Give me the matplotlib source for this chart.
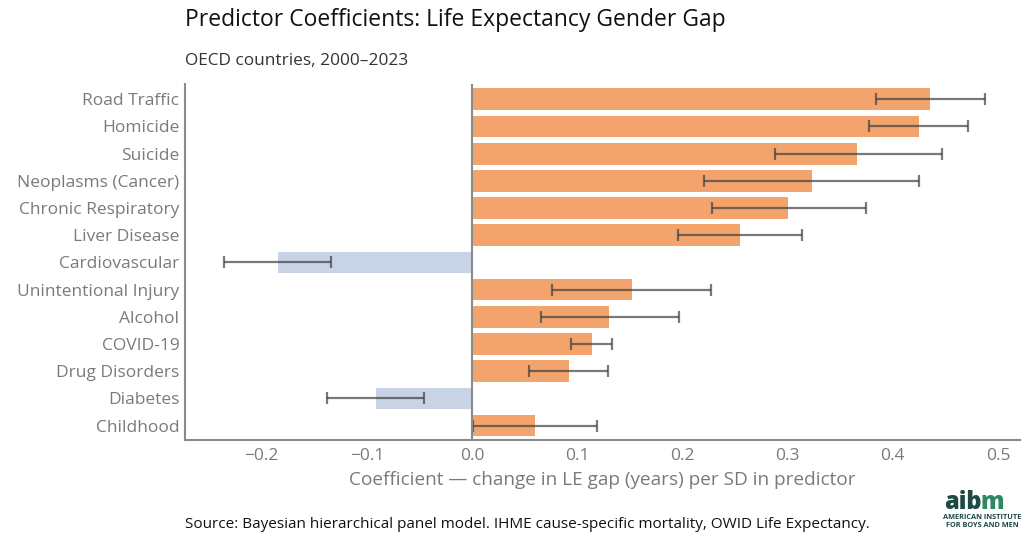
import numpy as np
import matplotlib
matplotlib.use("Agg")
import matplotlib.pyplot as plt

plt.rcParams['font.family'] = ['Open Sans', 'DejaVu Sans']

# data
predictors = ['Road Traffic', 'Homicide', 'Suicide', 'Neoplasms (Cancer)', 'Chronic Respiratory',
              'Liver Disease', 'Cardiovascular', 'Unintentional Injury', 'Alcohol', 'COVID-19',
              'Drug Disorders', 'Diabetes', 'Childhood']
coef = [0.435, 0.425, 0.366, 0.323, 0.300, 0.255, -0.185, 0.152, 0.130, 0.114, 0.092, -0.091, 0.060]
ci_low = [0.384, 0.377, 0.288, 0.221, 0.228, 0.196, -0.236, 0.076, 0.066, 0.094, 0.054, -0.138, 0.001]
ci_high = [0.488, 0.472, 0.447, 0.425, 0.375, 0.314, -0.134, 0.227, 0.197, 0.133, 0.129, -0.046, 0.119]
xticks = [-0.2, -0.1, 0.0, 0.1, 0.2, 0.3, 0.4, 0.5]

POS = '#F2A46C'
NEG = '#C8D3E6'
GREY = '#7a7a7a'
LOGO_DARK = '#1E4A45'
LOGO_GREEN = '#2A8A60'

fig = plt.figure(figsize=(10.35, 5.49), dpi=100)
ax = fig.add_axes([0.1787, 0.1985, 0.8068, 0.6485])

y = np.arange(len(predictors))
coef = np.array(coef)
colors = [POS if c > 0 else NEG for c in coef]
ax.barh(y, coef, height=0.8, color=colors, zorder=2)
err = np.vstack([coef - np.array(ci_low), np.array(ci_high) - coef])
ax.errorbar(coef, y, xerr=err, fmt='none', ecolor='#404040', alpha=0.7,
            elinewidth=1.6, capsize=4.5, capthick=1.6, zorder=3)
ax.axvline(0, color='#8a8a8a', lw=1.5, zorder=4)

ax.set_ylim(len(predictors) - 0.47, -0.56)
ax.set_xlim(-0.273, 0.521)
ax.set_yticks(y)
ax.set_yticklabels(predictors, fontsize=12.5, color=GREY)
ax.set_xticks(xticks)
ax.set_xticklabels([f'{t:.1f}'.replace('-', '\u2212') for t in xticks], fontsize=12.5, color=GREY)
ax.tick_params(axis='both', length=0, pad=4)
ax.tick_params(axis='x', pad=6)
for s in ['top', 'right']:
    ax.spines[s].set_visible(False)
for s in ['left', 'bottom']:
    ax.spines[s].set_color('#8a8a8a')
    ax.spines[s].set_linewidth(1.5)
ax.set_xlabel('Coefficient \u2014 change in LE gap (years) per SD in predictor',
              fontsize=13.7, color=GREY, labelpad=5)

fig.text(0.1787, 0.963, 'Predictor Coefficients: Life Expectancy Gender Gap',
         fontsize=16.5, color='#111111', va='center')
fig.text(0.1787, 0.889, 'OECD countries, 2000\u20132023', fontsize=12.4,
         color='#333333', va='center')
fig.text(0.1787, 0.045, 'Source: Bayesian hierarchical panel model. IHME cause-specific mortality, OWID Life Expectancy.',
         fontsize=11, color='#111111', va='center')

# logo: "aib" dark, "m" green, butted together
t1 = fig.text(0.912, 0.073, 'aib', fontsize=17, fontweight='heavy', color=LOGO_DARK,
              ha='left', va='baseline')
fig.canvas.draw()
bb = t1.get_window_extent()
x_m = bb.x1 / fig.bbox.width - 0.001
fig.text(x_m, 0.073, 'm', fontsize=17, fontweight='heavy', color=LOGO_GREEN,
         ha='left', va='baseline')
fig.text(0.949, 0.057, 'AMERICAN INSTITUTE', fontsize=5.3, fontweight='bold',
         color=LOGO_DARK, ha='center', va='center')
fig.text(0.949, 0.042, 'FOR BOYS AND MEN', fontsize=5.3, fontweight='bold',
         color=LOGO_DARK, ha='center', va='center')

fig.savefig('out.png', dpi=100)
